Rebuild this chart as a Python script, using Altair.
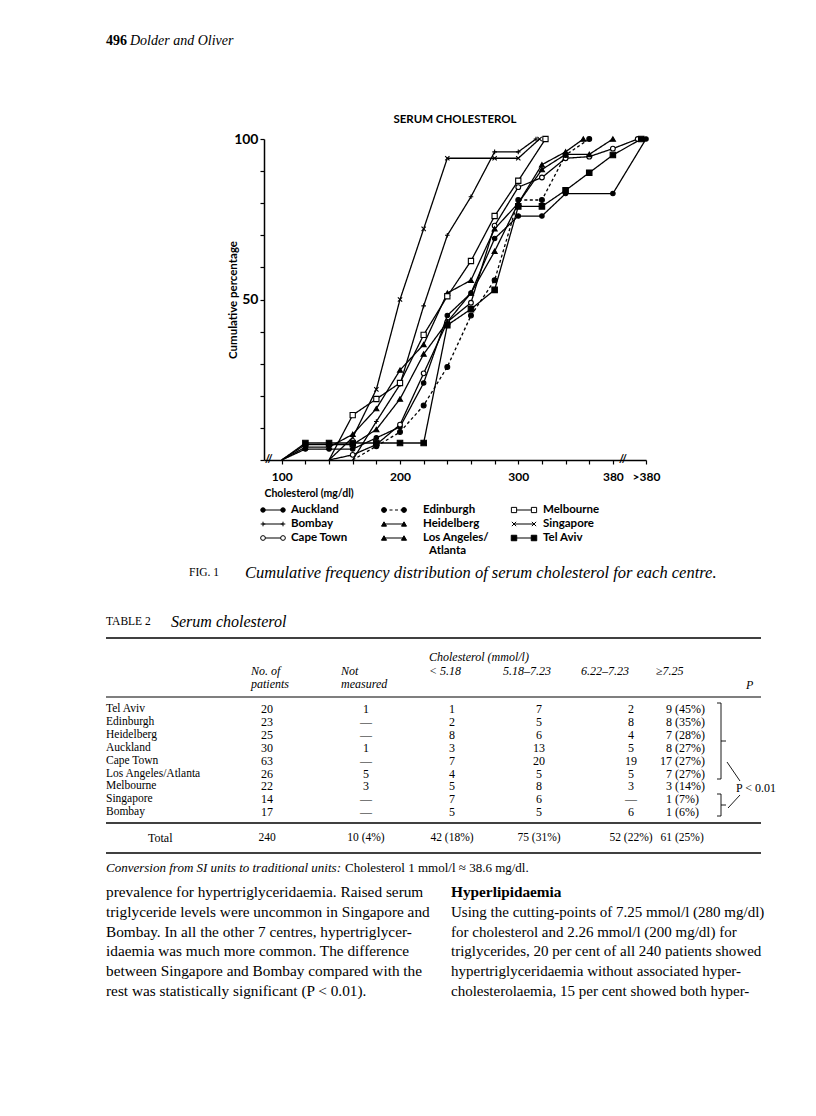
import altair as alt
import pandas as pd

# ====================== DATA ======================
centres = ["Auckland", "Bombay", "Cape Town", "Edinburgh", "Heidelberg",
           "Los Angeles/Atlanta", "Melbourne", "Singapore", "Tel Aviv"]

# cumulative percentage (x = cholesterol mg/dl, ">380" drawn near 401-408)
auckland_x = [100, 120, 140, 160, 180, 200, 220, 240, 260, 280, 300, 320, 340, 380, 408]
auckland_y = [0, 3.4, 3.4, 3.4, 6.9, 10.3, 24, 45, 52, 69, 76, 76, 83, 83, 100]
bombay_x = [160, 180, 200, 220, 240, 260, 280, 300, 315]
bombay_y = [0, 12, 23.5, 48, 70, 82, 96, 96, 100]
cape_town_x = [140, 160, 180, 200, 220, 240, 260, 280, 300, 320, 340, 360, 380, 401]
cape_town_y = [0, 1.6, 4.8, 11, 27, 43, 49, 73, 85, 88, 94, 94.5, 97, 100]
edinburgh_x = [160, 180, 200, 220, 240, 260, 280, 300, 320, 340, 360]
edinburgh_y = [0, 4.3, 8.7, 17, 29, 45, 56, 81, 81, 95, 100]
heidelberg_x = [100, 120, 140, 160, 180, 200, 220, 240, 260, 280, 300, 320, 340, 355]
heidelberg_y = [0, 4, 4, 8, 16, 28, 36, 52, 56, 72, 80, 92, 96, 100]
los_angeles_x = [100, 120, 140, 160, 180, 200, 220, 240, 260, 280, 300, 320, 340, 360, 380]
los_angeles_y = [0, 4.8, 4.8, 4.8, 9.5, 19, 33, 43, 52, 65, 80, 90.5, 95.2, 95.2, 100]
melbourne_x = [140, 160, 180, 200, 220, 240, 260, 280, 300, 323]
melbourne_y = [0, 14, 19, 24, 39, 51, 62, 76, 87, 100]
singapore_x = [140, 160, 180, 200, 220, 240, 280, 300, 318]
singapore_y = [0, 7, 22, 50, 72, 94, 94, 94, 100]
tel_aviv_x = [100, 120, 140, 160, 180, 200, 220, 240, 260, 280, 300, 320, 340, 360, 380, 404]
tel_aviv_y = [0, 5.3, 5.3, 5.3, 5.3, 5.3, 5.3, 42, 47, 53, 79, 79, 84, 89.5, 95, 100]

x_tick_values = [100, 120, 140, 160, 180, 200, 220, 240, 260, 280, 300, 320, 340, 360, 380, 408]
y_tick_values = [0, 10, 20, 30, 40, 50, 60, 70, 80, 90, 100]
axis_breaks = [89, 388.5]

chart_title = "SERUM CHOLESTEROL"
x_title = "Cholesterol (mg/dl)"
y_title = "Cumulative percentage"

legend_labels = ["Auckland", "Bombay", "Cape Town", "Edinburgh", "Heidelberg",
                 "Los Angeles/", "Melbourne", "Singapore", "Tel Aviv"]
legend_extra = "Atlanta"

page_number = "496"
running_head = "Dolder and Oliver"
fig_label = "FIG. 1"
fig_caption = "Cumulative frequency distribution of serum cholesterol for each centre."
table_label = "TABLE 2"
table_caption = "Serum cholesterol"

table_group_header = "Cholesterol (mmol/l)"
table_head_1 = ["No. of", "Not", "< 5.18", "5.18–7.23", "6.22–7.23", "≥7.25"]
table_head_2 = ["patients", "measured"]
table_head_p = "P"

table_centres = ["Tel Aviv", "Edinburgh", "Heidelberg", "Auckland", "Cape Town",
                 "Los Angeles/Atlanta", "Melbourne", "Singapore", "Bombay"]
table_n = ["20", "23", "25", "30", "63", "26", "22", "14", "17"]
table_not_measured = ["1", "—", "—", "1", "—", "5", "3", "—", "—"]
table_lt_518 = ["1", "2", "8", "3", "7", "4", "5", "7", "5"]
table_518_723 = ["7", "5", "6", "13", "20", "5", "8", "6", "5"]
table_622_723 = ["2", "8", "4", "5", "19", "5", "3", "—", "6"]
table_ge_725_n = ["9", "8", "7", "8", "17", "7", "3", "1", "1"]
table_ge_725_pct = ["(45%)", "(35%)", "(28%)", "(27%)", "(27%)", "(27%)", "(14%)", "(7%)", "(6%)"]
table_total_label = "Total"
table_total = ["240", "10 (4%)", "42 (18%)", "75 (31%)", "52 (22%)"]
table_total_ge = ["61", "(25%)"]
table_p_text = "P < 0.01"

footnote_italic = "Conversion from SI units to traditional units:"
footnote_plain = "Cholesterol 1 mmol/l ≈ 38.6 mg/dl."

body_left = [
    "prevalence for hypertriglyceridaemia. Raised serum",
    "triglyceride levels were uncommon in Singapore and",
    "Bombay. In all the other 7 centres, hypertriglycer-",
    "idaemia was much more common. The difference",
    "between Singapore and Bombay compared with the",
    "rest was statistically significant (P < 0.01).",
]
body_right_heading = "Hyperlipidaemia"
body_right = [
    "Using the cutting-points of 7.25 mmol/l (280 mg/dl)",
    "for cholesterol and 2.26 mmol/l (200 mg/dl) for",
    "triglycerides, 20 per cent of all 240 patients showed",
    "hypertriglyceridaemia without associated hyper-",
    "cholesterolaemia, 15 per cent showed both hyper-",
]

# ====================== LAYOUT (page pixels) ======================
MAIN_LEFT, MAIN_TOP, MAIN_W, MAIN_H = 263, 139, 382, 321
HEAD_TOP = 30
LOW_TOP = MAIN_TOP + MAIN_H
LOW_H = 545
SERIF = "Liberation Serif"
SANS = "Lato"

# ====================== SCALES ======================
PLUS = "M-1,0L1,0M0,-1L0,1"
CROSS = "M-0.8,-0.8L0.8,0.8M-0.8,0.8L0.8,-0.8"
shape_scale = alt.Scale(domain=centres, range=["circle", PLUS, "circle", "circle", "triangle-up",
                                               "triangle-up", "square", CROSS, "square"])
fill_scale = alt.Scale(domain=centres, range=["black", "black", "white", "black", "black",
                                              "black", "white", "black", "black"])
dash_scale = alt.Scale(domain=centres, range=[[1, 0], [1, 0], [1, 0], [3, 2.5], [1, 0],
                                              [1, 0], [1, 0], [1, 0], [1, 0]])
size_scale = alt.Scale(domain=centres, range=[20, 30, 22, 20, 26, 26, 22, 30, 22])
leg_size_scale = alt.Scale(domain=centres, range=[14, 22, 16, 14, 18, 18, 15, 22, 15])

# ====================== MAIN PLOT ======================
curve_x = [auckland_x, bombay_x, cape_town_x, edinburgh_x, heidelberg_x,
           los_angeles_x, melbourne_x, singapore_x, tel_aviv_x]
curve_y = [auckland_y, bombay_y, cape_town_y, edinburgh_y, heidelberg_y,
           los_angeles_y, melbourne_y, singapore_y, tel_aviv_y]
recs = []
for c, xs, ys in zip(centres, curve_x, curve_y):
    for k, (xv, yv) in enumerate(zip(xs, ys)):
        recs.append({"centre": c, "chol": xv, "pct": yv, "k": k})
curve_df = pd.DataFrame(recs)

x_enc = alt.X("chol:Q",
              scale=alt.Scale(domain=[85, 408], nice=False, zero=False),
              axis=alt.Axis(values=x_tick_values, tickCount=100,
                            labelExpr="datum.value == 408 ? '>380' : ((datum.value % 100 == 0 || datum.value == 380) ? '' + datum.value : '')",
                            title=x_title, titleX=0, titleY=36, titleAlign="left",
                            titleBaseline="alphabetic", titleFont=SANS, titleFontSize=10.5,
                            titleFontWeight="bold", titleColor="black",
                            labelFont=SANS, labelFontSize=12, labelFontWeight="bold",
                            labelColor="black", labelPadding=7, labelOverlap=False,
                            labelFlush=False, tickSize=4, tickWidth=1.2, tickColor="black",
                            domainColor="black", domainWidth=1.5, grid=False))
y_enc = alt.Y("pct:Q",
              scale=alt.Scale(domain=[0, 100], nice=False),
              axis=alt.Axis(values=y_tick_values, tickCount=100,
                            labelExpr="(datum.value == 50 || datum.value == 100) ? '' + datum.value : ''",
                            title=y_title, titleX=-31, titleY=MAIN_H / 2, titleAngle=270,
                            titleAlign="center", titleBaseline="middle", titleFont=SANS,
                            titleFontSize=11.5, titleFontWeight="bold", titleColor="black",
                            labelFont=SANS, labelFontSize=14, labelFontWeight="bold",
                            labelColor="black", labelPadding=2, labelOverlap=False,
                            tickSize=4, tickWidth=1.2,
                            tickColor="black", domainColor="black", domainWidth=1.5, grid=False))

base = alt.Chart(curve_df)
lines = base.mark_line(color="black", strokeWidth=1.3).encode(
    x=x_enc, y=y_enc, detail="centre:N", order="k:Q",
    strokeDash=alt.StrokeDash("centre:N", scale=dash_scale, legend=None))
points = base.transform_filter("datum.pct > 0").mark_point(
    opacity=1, stroke="black", strokeWidth=1.1, fillOpacity=1).encode(
    x="chol:Q", y="pct:Q",
    shape=alt.Shape("centre:N", scale=shape_scale, legend=None),
    fill=alt.Fill("centre:N", scale=fill_scale, legend=None),
    size=alt.Size("centre:N", scale=size_scale, legend=None))
brk = alt.Chart(pd.DataFrame({"chol": axis_breaks, "pct": [0, 0]})).mark_text(
    text="//", font=SANS, fontSize=11, fontWeight="bold", baseline="middle", color="black").encode(
    x="chol:Q", y="pct:Q")

main = alt.layer(lines, points, brk).properties(
    width=MAIN_W, height=MAIN_H,
    title=alt.TitleParams(chart_title, font=SANS, fontSize=11.5, fontWeight="bold",
                          color="black", offset=7, anchor="middle"))


# ====================== helpers for page text ======================
def text_layer(rows, oy, font=SERIF, style="normal", weight="normal", align="left"):
    df = pd.DataFrame(rows, columns=["text", "px", "py", "fs"])
    df["px"] = df["px"] - MAIN_LEFT
    df["py"] = df["py"] - oy
    return alt.Chart(df).mark_text(font=font, fontStyle=style, fontWeight=weight,
                                   align=align, baseline="middle", color="black").encode(
        x=alt.X("px:Q", scale=None, axis=None),
        y=alt.Y("py:Q", scale=None, axis=None),
        text="text:N",
        size=alt.Size("fs:Q", scale=None, legend=None))


def seg_layer(rows, oy, width):
    df = pd.DataFrame(rows, columns=["x1", "y1", "x2", "y2"])
    df["x1"] = df["x1"] - MAIN_LEFT
    df["x2"] = df["x2"] - MAIN_LEFT
    df["y1"] = df["y1"] - oy
    df["y2"] = df["y2"] - oy
    return alt.Chart(df).mark_rule(color="black", strokeWidth=width).encode(
        x=alt.X("x1:Q", scale=None, axis=None), y=alt.Y("y1:Q", scale=None, axis=None),
        x2="x2:Q", y2="y2:Q")


# ====================== HEADER ======================
header = alt.layer(
    text_layer([(page_number, 105, 41, 14)], HEAD_TOP, weight="bold"),
    text_layer([(running_head, 129, 41, 14)], HEAD_TOP, style="italic"),
).properties(width=MAIN_W, height=MAIN_TOP - HEAD_TOP)

# ====================== LOWER PART ======================
LEG_SYM_X = [262, 383, 513]
LEG_LAB_X = [290, 422, 542]
LEG_ROW_Y = [510, 524, 538]
LEG_W = 20

leg_pts, leg_txt = [], []
for i, c in enumerate(centres):
    col, row = divmod(i, 3)
    for dx in (0, LEG_W):
        leg_pts.append({"centre": c, "px": LEG_SYM_X[col] + dx - MAIN_LEFT,
                        "py": LEG_ROW_Y[row] - LOW_TOP})
    leg_txt.append((legend_labels[i], LEG_LAB_X[col], LEG_ROW_Y[row], 11.5))
leg_txt.append((legend_extra, 428, 551, 11.5))
leg_df = pd.DataFrame(leg_pts)
lx = alt.X("px:Q", scale=None, axis=None)
ly = alt.Y("py:Q", scale=None, axis=None)
leg_lines = alt.Chart(leg_df).mark_line(color="black", strokeWidth=1.1).encode(
    x=lx, y=ly, detail="centre:N",
    strokeDash=alt.StrokeDash("centre:N", scale=dash_scale, legend=None))
leg_points = alt.Chart(leg_df).mark_point(opacity=1, stroke="black", strokeWidth=1, fillOpacity=1).encode(
    x=lx, y=ly,
    shape=alt.Shape("centre:N", scale=shape_scale, legend=None),
    fill=alt.Fill("centre:N", scale=fill_scale, legend=None),
    size=alt.Size("centre:N", scale=leg_size_scale, legend=None))

# table geometry
ROW_Y0, ROW_DY = 709, 12.9
VAL_X = [266, 365, 451, 538, 630]
GE_X = 671
TS = 12

plain_left, plain_center, plain_right, italic_left, bold_left = [], [], [], [], []

# caption and table title
plain_left.append((fig_label, 188, 573, 11.5))
italic_left.append((fig_caption, 244, 573, 16.5))
plain_left.append((table_label, 105, 622, 11.5))
italic_left.append((table_caption, 170, 622, 16))

# headers
italic_left.append((table_group_header, 428, 657, 12))
head_x = [250, 340, 428, 502, 580, 655]
for t, x in zip(table_head_1, head_x):
    italic_left.append((t, x, 671, 12))
for t, x in zip(table_head_2, head_x):
    italic_left.append((t, x, 684, 12))
italic_left.append((table_head_p, 745, 685, 12))

# rows
for r in range(len(table_centres)):
    y = ROW_Y0 + r * ROW_DY
    plain_left.append((table_centres[r], 105, y, 11.5))
    cols = [table_n[r], table_not_measured[r], table_lt_518[r], table_518_723[r], table_622_723[r]]
    for t, x in zip(cols, VAL_X):
        plain_center.append((t, x, y, TS))
    plain_right.append((table_ge_725_n[r], GE_X, y, TS))
    plain_left.append((table_ge_725_pct[r], GE_X + 3, y, TS))
plain_left.append((table_p_text, 735, 788, TS))

# totals
plain_left.append((table_total_label, 147, 838, TS))
for t, x in zip(table_total, VAL_X):
    plain_center.append((t, x, 838, 11.5))
plain_right.append((table_total_ge[0], GE_X, 838, 11.5))
plain_left.append((table_total_ge[1], GE_X + 3, 838, 11.5))

# footnote
italic_left.append((footnote_italic, 105, 868, 13))
plain_left.append((footnote_plain, 344, 868, 13))

# body text
BODY_Y0, BODY_DY = 892, 19.8
for i, t in enumerate(body_left):
    plain_left.append((t, 105, BODY_Y0 + i * BODY_DY, 15.3))
bold_left.append((body_right_heading, 450, BODY_Y0, 15.3))
for i, t in enumerate(body_right):
    plain_left.append((t, 450, BODY_Y0 + (i + 1) * BODY_DY, 15))

rules_thick = [(105, 638, 760, 638), (105, 823, 760, 823), (105, 853, 760, 853)]
rules_thin = [(105, 697, 760, 697)]
braces = [
    (720, 703, 720, 779), (716, 703, 720, 703), (716, 779, 720, 779), (720, 741, 725, 741),
    (720, 794, 720, 816), (716, 794, 720, 794), (716, 816, 720, 816), (720, 805, 725, 805),
    (726, 762, 739, 781), (727, 808, 739, 795),
]

lower = alt.layer(
    seg_layer(rules_thick, LOW_TOP, 1.6),
    seg_layer(rules_thin, LOW_TOP, 1.1),
    seg_layer(braces, LOW_TOP, 0.9),
    leg_lines, leg_points,
    text_layer(leg_txt, LOW_TOP, font=SANS, weight="bold"),
    text_layer(plain_left, LOW_TOP),
    text_layer(plain_center, LOW_TOP, align="center"),
    text_layer(plain_right, LOW_TOP, align="right"),
    text_layer(italic_left, LOW_TOP, style="italic"),
    text_layer(bold_left, LOW_TOP, weight="bold"),
).properties(width=MAIN_W, height=LOW_H)

chart = alt.vconcat(header, main, lower, spacing=0, bounds="flush").properties(
    padding={"left": 97, "top": 22, "right": 5, "bottom": 5},
    background="white",
).configure_view(strokeWidth=0)

chart.save("out.html", embed_options={"renderer": "svg", "actions": False})
